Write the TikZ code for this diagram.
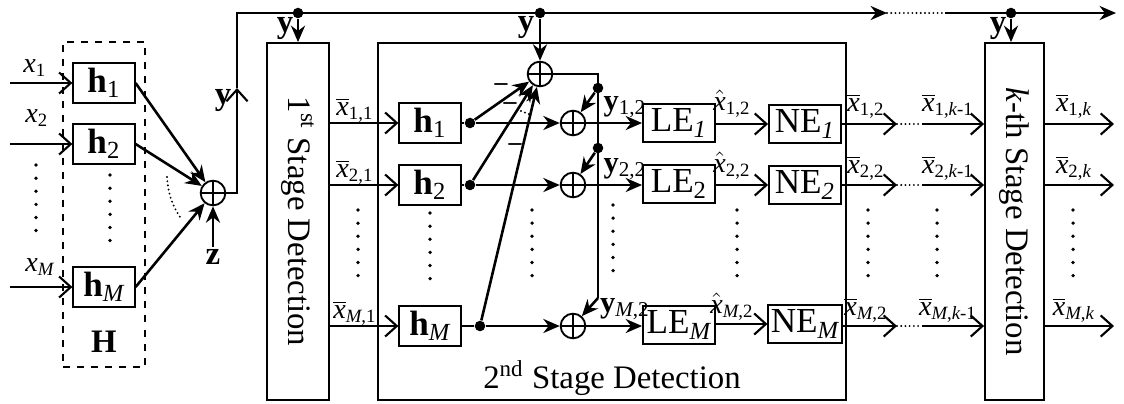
\documentclass[tikz,border=0pt]{standalone}
\usepackage{fontspec}
\setmainfont{Liberation Serif}
\usetikzlibrary{arrows.meta, positioning}
\newcommand{\xb}[1]{$\overline{\mbox{\itshape x}}$\textsubscript{#1}}
\newcommand{\xc}[1]{$\hat{\mbox{\itshape x}}$\textsubscript{#1}}
\tikzset{
  bloco/.style={
    draw, thick, minimum width=0.92cm, minimum height=0.6cm,
    inner sep=1pt, font=\fontsize{15}{17}\selectfont
  },
  blocoLE/.style={bloco, minimum width=1.08cm, minimum height=0.58cm},
  estagio/.style={
    draw, thick, rotate=-90, minimum width=5.355cm, minimum height=0.92cm,
    inner sep=1pt, font=\fontsize{14}{16}\selectfont
  },
  soma/.style={
    circle, draw, thick, minimum size=3.7mm, inner sep=0pt,
    path picture={
      \draw[thick] (path picture bounding box.north) -- (path picture bounding box.south)
        (path picture bounding box.west) -- (path picture bounding box.east);
    }
  },
  ponto/.style={circle, fill, inner sep=0pt, minimum size=4.5pt},
  rotulo/.style={inner sep=1pt, font=\fontsize{12}{14}\selectfont},
  negrito/.style={inner sep=1pt, font=\fontsize{14}{16}\selectfont\bfseries},
  rotuloy/.style={inner sep=0.5pt, font=\fontsize{13}{15}\selectfont\bfseries},
  menos/.style={anchor=base, inner sep=0pt, text height=0.6ex, text depth=0pt, font=\fontsize{11}{12}\selectfont\bfseries},
  linha/.style={line width=1.1pt},
  seta/.style={-{Stealth[length=7pt, width=6pt]}, line width=1.1pt},
  setaaberta/.style={-{Straight Barb[length=5pt, width=9pt]}, line width=0.9pt},
  reticencias/.style={line width=1.6pt, line cap=round, dash pattern=on 0pt off 5.6pt},
  pontinhos/.style={line width=0.9pt, line cap=round, dash pattern=on 0pt off 1.8pt},
}

\begin{document}
\begin{tikzpicture}[x=0.015cm, y=-0.015cm]
\useasboundingbox (0,0) rectangle (1124,403);

% canal H
\node[bloco] (hA1) at (104,83) {\textbf{h}\textsubscript{1}};
\node[bloco] (hA2) at (104,144) {\textbf{h}\textsubscript{2}};
\node[bloco] (hAM) at (104,287) {\textbf{h}\textsubscript{\itshape M}};
\node[draw, thick, dashed, minimum width=1.23cm, minimum height=4.875cm] (canal) at (104,204.5) {};
\node[negrito] (lblH) at (104,342) {H};

\coordinate (in1) at (10,83);
\coordinate (in2) at (10,144);
\coordinate (inM) at (10,287);
\node[rotulo] (lx1) at (35,68) {\textit{x}\textsubscript{1}};
\node[rotulo] (lx2) at (37,118) {\textit{x}\textsubscript{2}};
\node[rotulo] (lxM) at (40,267) {\textit{x}\textsubscript{\itshape M}};
\draw[setaaberta] (in1) -- (hA1);
\draw[setaaberta] (in2) -- (hA2);
\draw[setaaberta] (inM) -- (hAM);
\draw[reticencias] (36,165) -- (36,235);
\draw[reticencias] (110,175) -- (110,245);

\node[soma] (s0) at (213,193) {};
\draw[seta] (hA1.east) -- (s0);
\draw[seta] (hA2.east) -- (s0);
\draw[seta] (hAM.east) -- (s0);
\draw[pontinhos] (167,177) to[bend right=15] (182,220);
\node[negrito] (lblz) at (213,257) {z};
\draw[seta] (lblz.north) -- (s0.south);

% linha de y
\coordinate (subida) at (237,88);
\coordinate (topo0) at (237,13);
\coordinate (tp1) at (887,13);
\coordinate (tp2) at (945,13);
\coordinate (tfim) at (1116,13);
\node[negrito] (ly0) at (223,101) {y};
\draw[setaaberta] (s0.east) -| (subida);
\draw[seta] (subida) -- (topo0) -- (tp1);
\draw[pontinhos] (tp1) -- (tp2);
\draw[seta] (tp2) -- (tfim);
\node[ponto] (d1) at (298,13) {};
\node[ponto] (d2) at (540,13) {};
\node[ponto] (d3) at (1011,13) {};

% 1o estagio
\node[estagio] (estagio1) at (298,221.5) {1\textsuperscript{st} Stage Detection};
\node[negrito] (ly1) at (285,29) {y};
\draw[seta] (d1) -- (estagio1.west);

% 2o estagio
\node[draw, thick, minimum width=7.02cm, minimum height=5.355cm] (estagio2) at (612,221.5) {};
\node[font=\fontsize{14}{16}\selectfont] (lbl2) at (612,378) {2\textsuperscript{nd} Stage Detection};

\node[bloco] (hB1) at (430,123) {\textbf{h}\textsubscript{1}};
\node[bloco] (hB2) at (430,185) {\textbf{h}\textsubscript{2}};
\node[bloco] (hBM) at (430,326) {\textbf{h}\textsubscript{\itshape M}};
\draw[setaaberta] (estagio1.north |- hB1) -- (hB1.west);
\draw[setaaberta] (estagio1.north |- hB2) -- (hB2.west);
\draw[setaaberta] (estagio1.north |- hBM) -- (hBM.west);
\node[rotulo] (lx11) at (355,110) {\xb{1,1}};
\node[rotulo] (lx21) at (355,172) {\xb{2,1}};
\node[rotulo] (lxM1) at (355,313) {\xb{{\itshape M},1}};
\draw[reticencias] (358,210) -- (358,282);
\draw[reticencias] (430,213) -- (430,285);

\node[ponto] (b1) at (470,123) {};
\node[ponto] (b2) at (470,185) {};
\node[ponto] (bM) at (480,326) {};
\draw[linha] (hB1.east) -- (b1);
\draw[linha] (hB2.east) -- (b2);
\draw[linha] (hBM.east) -- (bM);

\node[soma] (sT) at (540,74) {};
\node[negrito] (ly2) at (526,28) {y};
\draw[seta] (d2) -- (sT.north);
\draw[seta] (b1) -- (sT);
\draw[seta] (b2) -- (sT);
\draw[seta] (bM) -- (sT);
\node[menos] (m1) at (501,90) {--};
\node[menos] (m2) at (510,109) {--};
\node[menos] (m3) at (515,150) {--};
\draw[pontinhos] (521,111) -- (531,115);

\node[soma] (sA1) at (573,123) {};
\node[soma] (sA2) at (573,185) {};
\node[soma] (sAM) at (573,326) {};
\draw[seta] (b1) -- (sA1);
\draw[seta] (b2) -- (sA2);
\draw[seta] (bM) -- (sAM);
\draw[reticencias] (532,210) -- (532,282);

\coordinate (fM) at (598,298);
\node[ponto] (f1) at (598,88) {};
\node[ponto] (f2) at (598,148) {};
\draw[linha] (sT.east) -| (fM);
\draw[seta] (f1) -- (sA1);
\draw[seta] (f2) -- (sA2);
\draw[seta] (fM) -- (sAM);

\node[blocoLE] (le1) at (679,123) {LE\textsubscript{\itshape 1}};
\node[blocoLE] (le2) at (679,184) {LE\textsubscript{2}};
\node[blocoLE] (leM) at (679,325) {LE\textsubscript{\itshape M}};
\draw[seta] (sA1) -- (le1);
\draw[seta] (sA2) -- (le2.west |- sA2);
\draw[seta] (sAM) -- (leM.west |- sAM);
\node[rotuloy] (ly12) at (625,107) {y\textsubscript{\mdseries\fontsize{9}{10}\selectfont 1,2}};
\node[rotuloy] (ly22) at (625,169) {y\textsubscript{\mdseries\fontsize{9}{10}\selectfont 2,2}};
\node[rotuloy] (lyM2) at (625,309) {y\textsubscript{\mdseries\fontsize{9}{10}\selectfont\itshape M\upshape,2}};
\draw[reticencias] (613,205) -- (613,277);

\node[blocoLE] (ne1) at (805,124) {NE\textsubscript{\itshape 1}};
\node[blocoLE] (ne2) at (805,185) {NE\textsubscript{\itshape 2}};
\node[blocoLE] (neM) at (805,324) {NE\textsubscript{\itshape M}};
\draw[setaaberta] (le1.east |- ne1) -- (ne1.west);
\draw[setaaberta] (le2.east |- ne2) -- (ne2.west);
\draw[setaaberta] (leM.east |- neM) -- (neM.west);
\node[rotulo] (lh12) at (732,104) {\xc{1,2}};
\node[rotulo] (lh22) at (732,166) {\xc{2,2}};
\node[rotulo] (lhM2) at (732,307) {\xc{{\itshape M},2}};
\draw[reticencias] (737,210) -- (737,282);

% k-esimo estagio
\node[estagio, minimum height=0.885cm] (estagiok) at (1014.5,221.5) {\textit{k}-th Stage Detection};
\node[negrito] (lyk) at (998,29) {y};
\draw[seta] (d3) -- (d3 |- estagiok.west);

\coordinate (p1a) at (897,124);
\coordinate (p1b) at (922,124);
\coordinate (p2a) at (897,185);
\coordinate (p2b) at (922,185);
\coordinate (pMa) at (897,326);
\coordinate (pMb) at (922,326);
\draw[setaaberta] (ne1.east |- p1a) -- (p1a);
\draw[setaaberta] (ne2.east |- p2a) -- (p2a);
\draw[setaaberta] (neM.east |- pMa) -- (pMa);
\draw[pontinhos] (p1a) -- (p1b);
\draw[pontinhos] (p2a) -- (p2b);
\draw[pontinhos] (pMa) -- (pMb);
\draw[setaaberta] (p1b) -- (p1b -| estagiok.south);
\draw[setaaberta] (p2b) -- (p2b -| estagiok.south);
\draw[setaaberta] (pMb) -- (pMb -| estagiok.south);
\node[rotulo] (lx12) at (866,106) {\xb{1,2}};
\node[rotulo] (lx22) at (866,168) {\xb{2,2}};
\node[rotulo] (lxM2) at (866,310) {\xb{{\itshape M},2}};
\node[rotulo] (lx1k) at (948,106) {\xb{1,{\itshape k}-1}};
\node[rotulo] (lx2k) at (948,168) {\xb{2,{\itshape k}-1}};
\node[rotulo] (lxMk) at (948,310) {\xb{{\itshape M},{\itshape k}-1}};
\draw[reticencias] (868,210) -- (868,280);
\draw[reticencias] (937,210) -- (937,280);

\coordinate (o1) at (1114,124);
\coordinate (o2) at (1114,185);
\coordinate (oM) at (1114,326);
\draw[setaaberta] (estagiok.north |- o1) -- (o1);
\draw[setaaberta] (estagiok.north |- o2) -- (o2);
\draw[setaaberta] (estagiok.north |- oM) -- (oM);
\node[rotulo] (lx1f) at (1074,106) {\xb{1,{\itshape k}}};
\node[rotulo] (lx2f) at (1074,168) {\xb{2,{\itshape k}}};
\node[rotulo] (lxMf) at (1074,310) {\xb{{\itshape M},{\itshape k}}};
\draw[reticencias] (1073,210) -- (1073,280);

\end{tikzpicture}
\end{document}
